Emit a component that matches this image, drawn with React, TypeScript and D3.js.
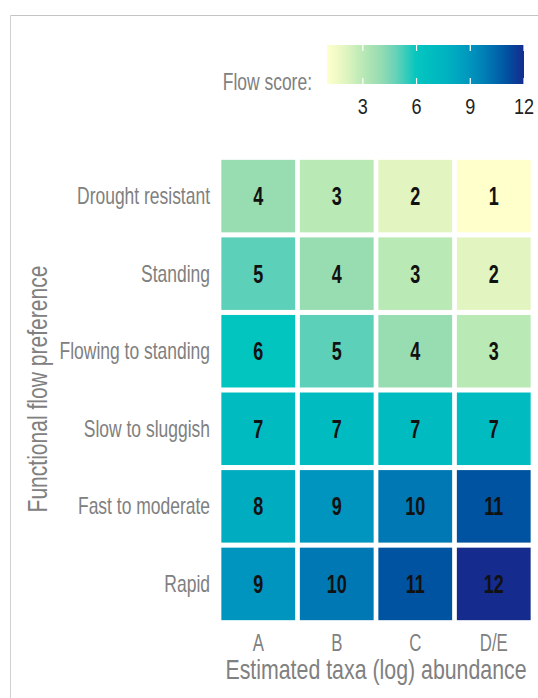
import React from "react";
import * as d3 from "d3";

const rows = ["Drought resistant", "Standing", "Flowing to standing", "Slow to sluggish", "Fast to moderate", "Rapid"];
const cols = ["A", "B", "C", "D/E"];
const droughtVals = [4, 3, 2, 1];
const standingVals = [5, 4, 3, 2];
const flowingVals = [6, 5, 4, 3];
const slowVals = [7, 7, 7, 7];
const fastVals = [8, 9, 10, 11];
const rapidVals = [9, 10, 11, 12];
const rowValues = [droughtVals, standingVals, flowingVals, slowVals, fastVals, rapidVals];
const legendTicks = [3, 6, 9, 12];
const colorStops = ["#ffffcc", "#e2f5c1", "#b9e9b5", "#98dcb2", "#5dd0b9", "#02c5bf", "#00bbc0", "#00adc0", "#0095be", "#0078b3", "#0053a1", "#152b8e"];
const stopValues = [1, 2, 3, 4, 5, 6, 7, 8, 9, 10, 11, 12];

const FONT = "'Liberation Sans', Arial, sans-serif";
const GRAY = "#808080";

function SText({ x, y, sx = 0.8, size, anchor = "middle", weight = "normal", fill = GRAY, rotate = 0, children }: any) {
  return (
    <text
      transform={`translate(${x},${y}) rotate(${rotate}) scale(${sx},1)`}
      fontFamily={FONT}
      fontSize={size}
      fontWeight={weight}
      textAnchor={anchor}
      fill={fill}
    >
      {children}
    </text>
  );
}

export default function App() {
  const W = 538, H = 698;
  const x = d3.scaleBand<string>().domain(cols).range([219, 533]).paddingInner(0.06).paddingOuter(0.03);
  const y = d3.scaleBand<string>().domain(rows).range([157.5, 622.5]).paddingInner(0.065).paddingOuter(0.03);
  const color = d3.scaleLinear<string>().domain(stopValues).range(colorStops).interpolate(d3.interpolateRgb);
  const lx = d3.scaleLinear().domain([1, 12]).range([327, 524]);
  const barTop = 45, barH = 39;

  const cells: any[] = [];
  rowValues.forEach((vals, i) => vals.forEach((v, j) => cells.push({ r: rows[i], c: cols[j], v })));

  const gradStops = d3.range(0, 1.0001, 0.05).map((t) => ({ t, c: color(1 + t * 11) }));

  return (
    <svg width={W} height={H} style={{ position: "absolute", left: 0, top: 0, background: "#fff" }}>
      <defs>
        <linearGradient id="lg" x1="0" x2="1" y1="0" y2="0">
          {gradStops.map((s, i) => (
            <stop key={i} offset={`${s.t * 100}%`} stopColor={s.c} />
          ))}
        </linearGradient>
      </defs>
      <rect x={0} y={0} width={W} height={H} fill="#fff" />
      {/* frame */}
      <line x1={10.5} x2={W} y1={15.5} y2={15.5} stroke="#c4c4c4" strokeWidth={1.2} />
      <line x1={10.5} x2={10.5} y1={15.5} y2={H} stroke="#d0d0d0" strokeWidth={1} />

      {/* legend */}
      <SText x={312} y={90} size={23} anchor="end" sx={0.76}>Flow score:</SText>
      <rect x={lx(1)} y={barTop} width={lx(12) - lx(1)} height={barH} fill="url(#lg)" />
      {legendTicks.map((t) => (
        <g key={t}>
          <line x1={lx(t)} x2={lx(t)} y1={barTop} y2={barTop + 6} stroke="#fff" strokeWidth={1.2} />
          <line x1={lx(t)} x2={lx(t)} y1={barTop + barH - 6} y2={barTop + barH} stroke="#fff" strokeWidth={1.2} />
          <SText x={lx(t)} y={114} size={22} fill="#222" sx={0.82}>{t}</SText>
        </g>
      ))}

      {/* tiles */}
      {cells.map((d, i) => (
        <g key={i}>
          <rect x={x(d.c)} y={y(d.r)} width={x.bandwidth()} height={y.bandwidth()} fill={color(d.v)} />
          <SText x={x(d.c)! + x.bandwidth() / 2} y={y(d.r)! + y.bandwidth() / 2 + 9} size={25} weight="bold" fill="#111" sx={0.72}>
            {d.v}
          </SText>
        </g>
      ))}

      {/* y labels */}
      {rows.map((r) => (
        <SText key={r} x={210} y={y(r)! + y.bandwidth() / 2 + 8} size={23} anchor="end" sx={0.76}>{r}</SText>
      ))}
      {/* x labels */}
      {cols.map((c) => (
        <SText key={c} x={x(c)! + x.bandwidth() / 2} y={651} size={23} sx={0.73}>{c}</SText>
      ))}
      <SText x={376} y={679} size={27} sx={0.79}>Estimated taxa (log) abundance</SText>
      <SText x={47} y={389} size={27} rotate={-90} sx={0.78}>Functional flow preference</SText>
    </svg>
  );
}
